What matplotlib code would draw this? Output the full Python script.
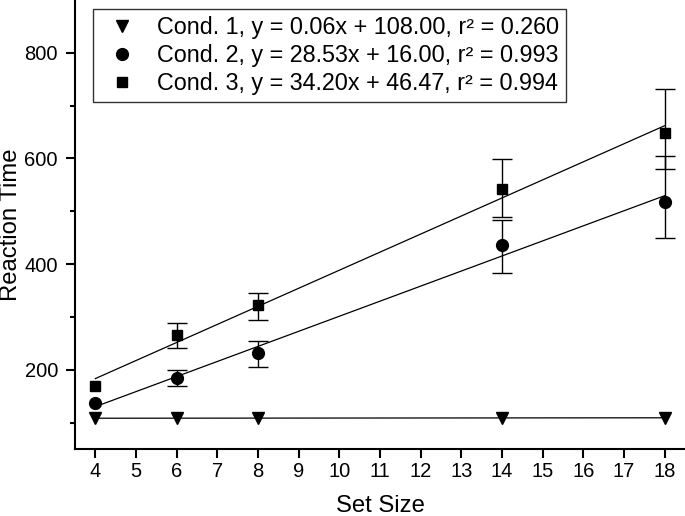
import matplotlib
matplotlib.use("Agg")
import matplotlib.pyplot as plt
from matplotlib.lines import Line2D
import numpy as np

plt.rcParams['font.family'] = ['Liberation Sans', 'DejaVu Sans']

set_size = [4, 6, 8, 14, 18]

cond1_rt = [108, 108, 109, 109, 109]
cond2_rt = [137, 185, 231, 436, 517]
cond3_rt = [170, 265, 322, 542, 648]

# no error bar visible at set size 4
cond2_err_lo = [0, 15, 25, 53, 68]
cond2_err_hi = [0, 14, 23, 48, 88]
cond3_err_lo = [0, 24, 28, 52, 68]
cond3_err_hi = [0, 23, 24, 57, 84]

# fit coefficients as printed in the legend
slopes = [0.06, 28.53, 34.20]
intercepts = [108.00, 16.00, 46.47]
labels = ["Cond. 1, y = 0.06x + 108.00, r\u00b2 = 0.260",
          "Cond. 2, y = 28.53x + 16.00, r\u00b2 = 0.993",
          "Cond. 3, y = 34.20x + 46.47, r\u00b2 = 0.994"]
markers = ['v', 'o', 's']
msizes = [8.5, 8.5, 6.8]

fig = plt.figure(figsize=(6.85, 5.16), dpi=100)
ax = fig.add_axes([75/685, 67/516, 610/685, 449/516])

x = np.array(set_size)
xfit = np.array([min(set_size), max(set_size)])
for s, b in zip(slopes, intercepts):
    ax.plot(xfit, s * xfit + b, color='black', lw=0.9, zorder=2)

for ys, lo, hi in [(cond2_rt, cond2_err_lo, cond2_err_hi),
                   (cond3_rt, cond3_err_lo, cond3_err_hi)]:
    ys, lo, hi = np.array(ys), np.array(lo), np.array(hi)
    keep = (lo + hi) > 0
    ax.errorbar(x[keep], ys[keep], yerr=[lo[keep], hi[keep]], fmt='none',
                ecolor='black', elinewidth=1.0, capsize=7.5, capthick=1.0, zorder=3)

for ys, m, ms in zip([cond1_rt, cond2_rt, cond3_rt], markers, msizes):
    ax.plot(x, ys, linestyle='none', marker=m, ms=ms, color='black', zorder=4)

handles = [Line2D([], [], linestyle='none', marker=m, ms=ms, color='black')
           for m, ms in zip(markers, msizes)]
leg = ax.legend(handles, labels, loc='upper left', bbox_to_anchor=(0.029, 0.979),
                borderaxespad=0, fontsize=16.8, frameon=True, fancybox=False,
                handletextpad=0.56, labelspacing=0.2, borderpad=0.3,
                handlelength=1.9)
leg.get_frame().set_edgecolor('black')
leg.get_frame().set_linewidth(1.0)

ax.set_xlim(3.5, 18.5)
ax.set_ylim(50, 900)
ax.set_xticks(range(4, 19))
ax.set_yticks([200, 400, 600, 800])
ax.set_yticks([100, 300, 500, 700], minor=True)
ax.tick_params(axis='both', which='major', labelsize=14.5, length=6.5, width=1.5,
               direction='out', color='black')
ax.tick_params(axis='y', which='minor', length=3.5, width=1.5)
ax.tick_params(axis='x', pad=3)
ax.tick_params(axis='y', pad=5.8)

ax.spines['top'].set_visible(False)
ax.spines['right'].set_visible(False)
ax.spines['left'].set_linewidth(1.5)
ax.spines['bottom'].set_linewidth(1.5)

ax.set_xlabel("Set Size", fontsize=17.2, labelpad=10)
ax.set_ylabel("Reaction Time", fontsize=17.2, labelpad=1.5)

fig.savefig("out.png", dpi=100)
